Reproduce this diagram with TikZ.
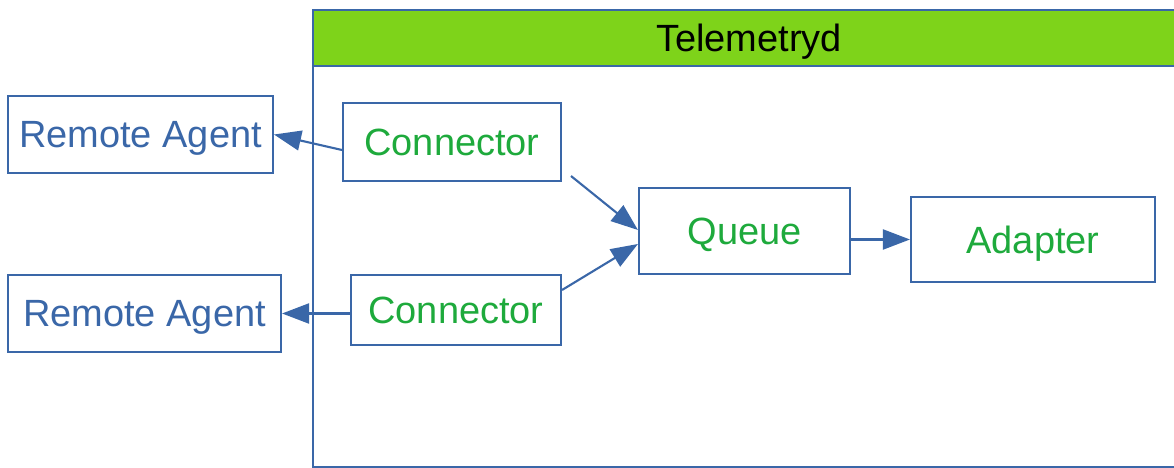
\documentclass[tikz,border=0pt]{standalone}
\usepackage{fontspec}
\setmainfont{Liberation Sans}
\usetikzlibrary{arrows.meta,calc}
\definecolor{edgeblue}{HTML}{3A67A8}
\definecolor{headgreen}{HTML}{7ED31A}
\definecolor{partgreen}{HTML}{1EAA3C}
\tikzset{
  agentbox/.style={draw=edgeblue,line width=0.6pt,text=edgeblue,inner sep=0pt,text depth=0pt,
    font=\fontsize{10.8}{13}\selectfont},
  partbox/.style={draw=edgeblue,line width=0.6pt,text=partgreen,inner sep=0pt,text depth=0pt,
    font=\fontsize{10.8}{13}\selectfont},
  flow/.style={draw=edgeblue,line width=0.6pt,-{Triangle[length=0.27cm,width=0.2cm]}}
}
\begin{document}
\begin{tikzpicture}
  \useasboundingbox (0,0) rectangle (11.74,4.68);
  \clip (0,0) rectangle (11.74,4.68);
  % telemetryd frame
  \fill[headgreen] (3.13,4.02) rectangle (11.9,4.58);
  \draw[edgeblue,line width=0.6pt] (3.13,0.01) rectangle (11.9,4.58);
  \draw[edgeblue,line width=0.6pt] (3.13,4.02) -- (11.9,4.02);
  \node[font=\fontsize{10.8}{13}\selectfont,text depth=0pt] (title) at (7.49,4.30) {Telemetryd};
  % boxes
  \node[agentbox,minimum width=2.65cm,minimum height=0.77cm] (ra1) at (1.405,3.335) {Remote Agent};
  \node[agentbox,minimum width=2.73cm,minimum height=0.77cm] (ra2) at (1.445,1.545) {Remote Agent};
  \node[partbox,minimum width=2.18cm,minimum height=0.78cm] (con1) at (4.52,3.26) {Connector};
  \node[partbox,minimum width=2.10cm,minimum height=0.70cm] (con2) at (4.56,1.58) {Connector};
  \node[partbox,minimum width=2.11cm,minimum height=0.86cm] (queue) at (7.445,2.37) {Queue};
  \node[partbox,minimum width=2.44cm,minimum height=0.85cm] (adapter) at (10.33,2.285) {Adapter};
  % connectors
  \draw[flow] ([yshift=-0.08cm]con1.west) -- (ra1.east);
  \draw[flow] (con2.west |- ra2.east) -- (ra2.east);
  \draw[flow] ([shift={(0.09cm,0.06cm)}]con1.south east) -- ([yshift=0.01cm]queue.west);
  \draw[flow] ([yshift=0.2cm]con2.east) -- ([yshift=-0.13cm]queue.west);
  \draw[flow] (queue.east |- adapter.west) -- (adapter.west);
\end{tikzpicture}
\end{document}
